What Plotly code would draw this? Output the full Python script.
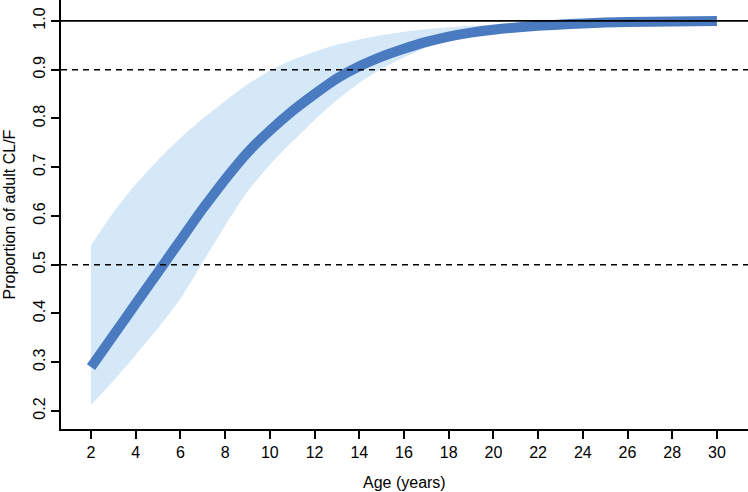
import plotly.graph_objects as go

# Age (years)
age = [2, 3, 4, 5, 6, 7, 7.5, 8, 9, 10, 11, 12, 13, 14, 15, 16, 17, 18, 19, 20, 22, 24, 26, 28, 30]
# Median proportion of adult CL/F
median = [0.29, 0.355, 0.42, 0.485, 0.55, 0.615, 0.645, 0.675, 0.73, 0.775, 0.815, 0.85, 0.882,
          0.907, 0.927, 0.943, 0.957, 0.968, 0.976, 0.982, 0.990, 0.995, 0.998, 0.999, 1.0]
# Confidence band
lower = [0.212, 0.262, 0.315, 0.37, 0.43, 0.505, 0.543, 0.58, 0.65, 0.705, 0.752, 0.797, 0.838,
         0.873, 0.902, 0.925, 0.945, 0.96, 0.97, 0.978, 0.988, 0.994, 0.997, 0.999, 1.0]
upper = [0.54, 0.607, 0.665, 0.715, 0.76, 0.80, 0.818, 0.836, 0.87, 0.898, 0.92, 0.937, 0.951,
         0.962, 0.971, 0.978, 0.983, 0.987, 0.99, 0.993, 0.996, 0.998, 0.999, 1.0, 1.0]

ref_solid = 1.0
ref_dashed = [0.9, 0.5]
x_ticks = list(range(2, 31, 2))
y_ticks = [0.2, 0.3, 0.4, 0.5, 0.6, 0.7, 0.8, 0.9, 1.0]

FONT = "Liberation Sans, Arial, sans-serif"
LINE_COLOR = "#4a7bc1"
BAND_COLOR = "rgb(213,232,247)"

fig = go.Figure()
fig.add_trace(go.Scatter(x=age, y=lower, mode="lines",
                         line=dict(width=0, color=BAND_COLOR, shape="spline", smoothing=0.6),
                         hoverinfo="skip", showlegend=False))
fig.add_trace(go.Scatter(x=age, y=upper, mode="lines",
                         line=dict(width=0, color=BAND_COLOR, shape="spline", smoothing=0.6),
                         fill="tonexty", fillcolor=BAND_COLOR, hoverinfo="skip", showlegend=False))
fig.add_trace(go.Scatter(x=age, y=median, mode="lines",
                         line=dict(width=10, color=LINE_COLOR, shape="spline", smoothing=0.6),
                         showlegend=False))

fig.add_shape(type="line", xref="paper", x0=0, x1=1, yref="y", y0=ref_solid, y1=ref_solid,
              line=dict(color="black", width=1.8), layer="above")
for v in ref_dashed:
    fig.add_shape(type="line", xref="paper", x0=0, x1=1, yref="y", y0=v, y1=v,
                  line=dict(color="black", width=1.6, dash="6px,5px"), layer="above")

fig.update_layout(
    width=748, height=492,
    margin=dict(l=61, r=0, t=0, b=63),
    paper_bgcolor="white", plot_bgcolor="white",
    font=dict(family=FONT, size=16, color="black"),
    xaxis=dict(range=[0.657, 31.39], tickvals=x_ticks, ticks="outside", ticklen=8, tickwidth=1.6,
               tickcolor="black", showline=True, linecolor="black", linewidth=2, showgrid=False,
               zeroline=False, tickfont=dict(size=16)),
    yaxis=dict(range=[0.163, 1.043], tickvals=y_ticks, tickformat=".1f", ticks="outside", ticklen=8,
               tickwidth=1.6, tickcolor="black", showline=True, linecolor="black", linewidth=2,
               showgrid=False, zeroline=False, tickangle=-90, tickfont=dict(size=16)),
    annotations=[
        dict(text="Age (years)", xref="paper", yref="paper", x=0.5, y=0, yshift=-53,
             showarrow=False, xanchor="center", yanchor="middle", font=dict(size=16)),
        dict(text="Proportion of adult CL/F", xref="paper", yref="paper", x=0, y=0.5, xshift=-52,
             showarrow=False, textangle=-90, xanchor="center", yanchor="middle", font=dict(size=16)),
    ],
)

fig.write_html("out.html", config={"displayModeBar": False},
               post_script="document.body.style.margin='0px';")
